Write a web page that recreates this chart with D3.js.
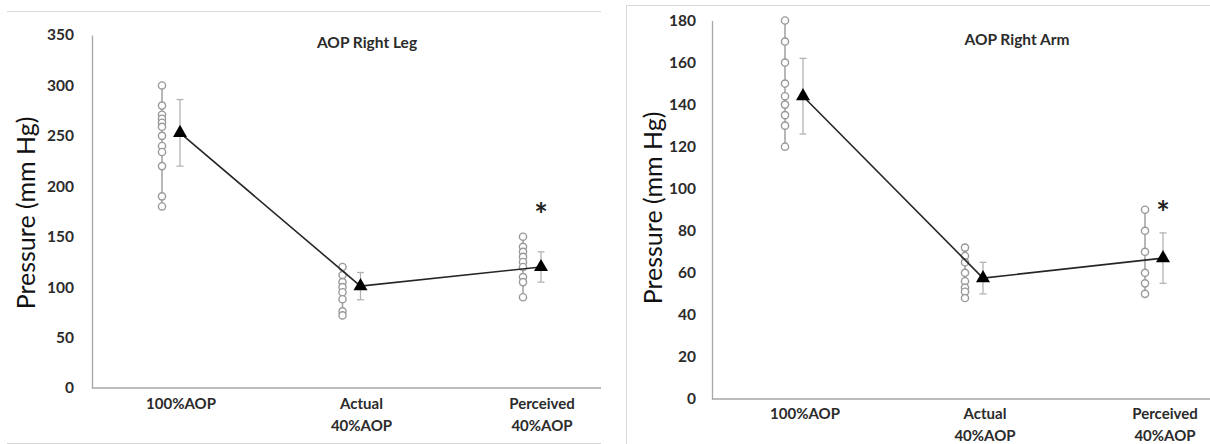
<!DOCTYPE html>
<html><head><meta charset="utf-8">
<script src="https://cdn.jsdelivr.net/npm/d3@7"></script>
<style>
body{margin:0;background:#fff;}
svg{display:block;font-family:Lato,'Open Sans',sans-serif;}
</style>
</head><body><svg id="c" width="1210" height="444"></svg>
<script>
// ---------- data ----------
const categories = ["100%AOP", "Actual 40%AOP", "Perceived 40%AOP"];
const categoryLines = [["100%AOP"], ["Actual", "40%AOP"], ["Perceived", "40%AOP"]];
const yLabel = "Pressure (mm Hg)";

const legTitle = "AOP Right Leg";
const legTicks = [0, 50, 100, 150, 200, 250, 300, 350];
const legIndividual100 = [300, 280, 271, 267, 263, 259, 250, 240, 234, 220, 190, 180];
const legIndividualActual = [120, 112, 105, 100, 95, 88, 76, 72];
const legIndividualPerceived = [150, 140, 135, 130, 125, 120, 110, 105, 90];
const legMean = [253, 101, 120];
const legSD = [33, 13.5, 15];
const legStar = [null, null, 176];

const armTitle = "AOP Right Arm";
const armTicks = [0, 20, 40, 60, 80, 100, 120, 140, 160, 180];
const armIndividual100 = [180, 170, 160, 150, 144, 140, 135, 130, 120];
const armIndividualActual = [72, 68, 65, 60, 56, 53, 51, 48];
const armIndividualPerceived = [90, 80, 70, 60, 55, 50];
const armMean = [144, 57.5, 67];
const armSD = [18, 7.5, 12];
const armStar = [null, null, 91];

// ---------- drawing ----------
const svg = d3.select("#c");
svg.append("rect").attr("width", 1210).attr("height", 444).attr("fill", "#fff");

// frame lines
const frame = svg.append("g").attr("stroke", "#d9d9d9").attr("stroke-width", 1);
frame.append("line").attr("x1", 7).attr("x2", 601).attr("y1", 11.5).attr("y2", 11.5);
frame.append("line").attr("x1", 7).attr("x2", 601).attr("y1", 443.5).attr("y2", 443.5);
frame.append("line").attr("x1", 626).attr("x2", 1210).attr("y1", 5.5).attr("y2", 5.5);
frame.append("line").attr("x1", 626.5).attr("x2", 626.5).attr("y1", 5).attr("y2", 444);

function drawPanel(cfg) {
  const g = svg.append("g");
  const y = d3.scaleLinear().domain([0, d3.max(cfg.ticks)]).range(cfg.yRange);
  const x = d3.scalePoint().domain(categories).range(cfg.xRange);

  // y axis
  const ya = g.append("g").attr("transform", `translate(${cfg.axisX},0)`)
    .call(d3.axisLeft(y).tickValues(cfg.ticks).tickSize(0).tickPadding(cfg.axisX - cfg.tickRight));
  ya.select(".domain").attr("stroke", "#a6a6a6").attr("stroke-width", 1.3);
  ya.selectAll("text").attr("font-family", "Lato").attr("font-weight", "bold")
    .attr("font-size", 15.5).attr("fill", "#2b2b2b");

  // x axis line
  g.append("line").attr("x1", cfg.axisX).attr("x2", cfg.axisRight)
    .attr("y1", y(0)).attr("y2", y(0)).attr("stroke", "#a6a6a6").attr("stroke-width", 1.3);

  // category labels
  categories.forEach((c, i) => {
    const t = g.append("text").attr("text-anchor", "middle")
      .attr("font-weight", "bold").attr("font-size", 15).attr("fill", "#2b2b2b");
    categoryLines[i].forEach((ln, j) => {
      t.append("tspan").attr("x", x(c) + cfg.labelShift).attr("y", cfg.labelBaseline + j * 22).text(ln);
    });
  });

  // title
  g.append("text").attr("x", cfg.titleX).attr("y", cfg.titleY).attr("text-anchor", "middle")
    .attr("font-weight", "bold").attr("font-size", 15.5).attr("fill", "#2b2b2b").text(cfg.title);

  // y label
  g.append("text").attr("transform", `translate(${cfg.yLabelX},${cfg.yLabelY}) rotate(-90)`)
    .attr("text-anchor", "middle").attr("dominant-baseline", "central")
    .attr("font-size", 25).attr("fill", "#111").text(yLabel);

  // individual points
  cfg.individual.forEach((vals, i) => {
    const cx = x(categories[i]) + cfg.indOffset;
    g.append("line").attr("x1", cx).attr("x2", cx)
      .attr("y1", y(d3.min(vals))).attr("y2", y(d3.max(vals)))
      .attr("stroke", "#a6a6a6").attr("stroke-width", 1.6);
    g.selectAll(null).data(vals).enter().append("circle")
      .attr("cx", cx).attr("cy", d => y(d)).attr("r", 3.6)
      .attr("fill", "#fff").attr("stroke", "#999").attr("stroke-width", 1.4);
  });

  // error bars
  cfg.mean.forEach((m, i) => {
    const cx = x(categories[i]);
    const lo = y(m - cfg.sd[i]), hi = y(m + cfg.sd[i]);
    const eb = g.append("g").attr("stroke", "#b3b3b3").attr("stroke-width", 1.3);
    eb.append("line").attr("x1", cx).attr("x2", cx).attr("y1", lo).attr("y2", hi);
    eb.append("line").attr("x1", cx - 3.5).attr("x2", cx + 3.5).attr("y1", lo).attr("y2", lo);
    eb.append("line").attr("x1", cx - 3.5).attr("x2", cx + 3.5).attr("y1", hi).attr("y2", hi);
  });

  // mean line
  const line = d3.line().x((d, i) => x(categories[i])).y(d => y(d));
  g.append("path").attr("d", line(cfg.mean)).attr("fill", "none")
    .attr("stroke", "#262626").attr("stroke-width", 1.6);

  // mean markers
  g.selectAll(null).data(cfg.mean).enter().append("path")
    .attr("d", d3.symbol(d3.symbolTriangle, 85))
    .attr("transform", (d, i) => `translate(${x(categories[i])},${y(d)})`)
    .attr("fill", "#000");

  // significance stars
  cfg.star.forEach((s, i) => {
    if (s == null) return;
    g.append("text").attr("x", x(categories[i])).attr("y", y(s) + 17)
      .attr("text-anchor", "middle").attr("font-weight", "bold")
      .attr("font-size", 32).attr("fill", "#222").text("*");
  });
}

drawPanel({
  title: legTitle, ticks: legTicks,
  individual: [legIndividual100, legIndividualActual, legIndividualPerceived],
  mean: legMean, sd: legSD, star: legStar,
  yRange: [388, 35], xRange: [180, 541], axisX: 92, axisRight: 601, tickRight: 74,
  indOffset: -18, labelShift: 1, labelBaseline: 409,
  titleX: 367, titleY: 48, yLabelX: 25, yLabelY: 213
});

drawPanel({
  title: armTitle, ticks: armTicks,
  individual: [armIndividual100, armIndividualActual, armIndividualPerceived],
  mean: armMean, sd: armSD, star: armStar,
  yRange: [399, 20.5], xRange: [803, 1163], axisX: 712, axisRight: 1210, tickRight: 696,
  indOffset: -18, labelShift: 2, labelBaseline: 419,
  titleX: 1017, titleY: 45, yLabelX: 652, yLabelY: 208
});
</script>
</body></html>
